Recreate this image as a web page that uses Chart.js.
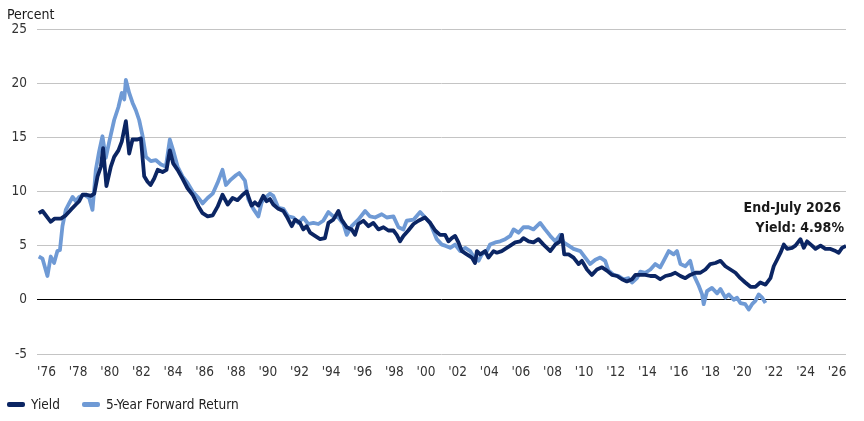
<!DOCTYPE html>
<html>
<head>
<meta charset="utf-8">
<script src="https://cdn.jsdelivr.net/npm/chart.js@4.4.1/dist/chart.umd.min.js"></script>
<style>
  html, body { margin: 0; padding: 0; background: #fff; }
  #wrap { position: relative; width: 864px; height: 421px; }
  #legend {
    position: absolute; left: 7px; top: 396px;
    font: 13.5px 'Liberation Sans Narrow', 'Arial Narrow', 'DejaVu Sans Condensed', sans-serif;
    color: #222; display: flex; align-items: center;
  }
  #legend .item { display: flex; align-items: center; margin-right: 22px; }
  #legend .sw { width: 18px; height: 5px; margin-right: 6px; border-radius: 2px; }
</style>
</head>
<body>
<div id="wrap">
  <canvas id="bondChart" width="864" height="421"></canvas>
  <div id="legend"></div>
</div>
<script>
const FONT = "'Liberation Sans Narrow', 'Arial Narrow', 'DejaVu Sans Condensed', sans-serif";
const DARK = '#0b2563';
const LIGHT = '#6f9ad5';

// x-axis labels (even years)
const tickYears = [1976, 1978, 1980, 1982, 1984, 1986, 1988, 1990, 1992, 1994, 1996, 1998, 2000,
  2002, 2004, 2006, 2008, 2010, 2012, 2014, 2016, 2018, 2020, 2022, 2024, 2026];
const yTicks = [-5, 0, 5, 10, 15, 20, 25];

// Yield, percent
const yieldYears = [
  1975.51, 1975.75, 1976.27, 1976.52, 1976.91, 1977.22, 1977.53, 1977.86, 1978.07, 1978.28,
  1978.54, 1978.81, 1979.02, 1979.23, 1979.44, 1979.58, 1979.79, 1980.07, 1980.28, 1980.55,
  1980.76, 1981.02, 1981.23, 1981.44, 1981.75, 1981.97, 1982.18, 1982.39, 1982.58, 1982.81,
  1983.03, 1983.34, 1983.59, 1983.80, 1984.01, 1984.29, 1984.60, 1984.92, 1985.24, 1985.62,
  1985.87, 1986.19, 1986.51, 1986.82, 1987.13, 1987.46, 1987.77, 1988.08, 1988.41, 1988.66,
  1988.97, 1989.18, 1989.40, 1989.71, 1989.92, 1990.13, 1990.34, 1990.66, 1990.98, 1991.19,
  1991.51, 1991.72, 1992.03, 1992.24, 1992.45, 1992.67, 1992.98, 1993.30, 1993.61, 1993.83,
  1994.14, 1994.46, 1994.66, 1994.99, 1995.30, 1995.51, 1995.72, 1996.04, 1996.36, 1996.67,
  1996.99, 1997.31, 1997.62, 1997.94, 1998.15, 1998.36, 1998.57, 1998.88, 1999.21, 1999.52,
  1999.94, 2000.26, 2000.58, 2000.89, 2001.21, 2001.42, 2001.63, 2001.84, 2002.05, 2002.27,
  2002.58, 2002.90, 2003.10, 2003.22, 2003.43, 2003.74, 2003.95, 2004.27, 2004.48, 2004.79,
  2005.01, 2005.33, 2005.64, 2005.96, 2006.16, 2006.49, 2006.80, 2007.11, 2007.43, 2007.86,
  2008.17, 2008.48, 2008.60, 2008.74, 2009.02, 2009.33, 2009.65, 2009.86, 2010.18, 2010.49,
  2010.81, 2011.13, 2011.44, 2011.76, 2012.08, 2012.39, 2012.70, 2013.03, 2013.24, 2013.55,
  2013.87, 2014.19, 2014.50, 2014.81, 2015.14, 2015.45, 2015.76, 2016.09, 2016.40, 2016.71,
  2017.04, 2017.35, 2017.67, 2017.98, 2018.30, 2018.62, 2018.93, 2019.25, 2019.57, 2019.88,
  2020.19, 2020.52, 2020.83, 2021.14, 2021.47, 2021.78, 2021.99, 2022.20, 2022.42, 2022.63,
  2022.84, 2023.15, 2023.36, 2023.68, 2023.89, 2024.10, 2024.41, 2024.63, 2024.95, 2025.26,
  2025.58, 2025.90, 2026.10, 2026.31, 2026.56
];
const yieldPct = [
  8.0, 8.2, 7.2, 7.5, 7.5, 7.8, 8.3, 8.8, 9.1, 9.7,
  9.7, 9.6, 9.8, 11.4, 12.3, 14.0, 10.5, 12.3, 13.2, 13.8,
  14.6, 16.5, 13.5, 14.8, 14.8, 14.9, 11.4, 10.9, 10.6, 11.2,
  12.0, 11.8, 12.0, 13.8, 12.6, 12.0, 11.2, 10.3, 9.7, 8.6,
  8.0, 7.7, 7.8, 8.6, 9.7, 8.8, 9.4, 9.2, 9.7, 10.0,
  8.7, 9.0, 8.7, 9.6, 9.1, 9.3, 8.8, 8.4, 8.2, 7.7,
  6.8, 7.4, 7.1, 6.5, 6.8, 6.2, 5.9, 5.6, 5.7, 7.1,
  7.4, 8.2, 7.4, 6.7, 6.5, 6.0, 7.0, 7.3, 6.8, 7.1,
  6.5, 6.7, 6.4, 6.4, 6.0, 5.4, 5.9, 6.4, 7.0, 7.3,
  7.6, 7.1, 6.4, 6.0, 6.0, 5.4, 5.7, 5.9, 5.3, 4.5,
  4.2, 3.9, 3.4, 4.5, 4.2, 4.5, 3.9, 4.5, 4.35, 4.5,
  4.7, 5.0, 5.3, 5.4, 5.7, 5.4, 5.3, 5.6, 5.1, 4.5,
  5.1, 5.4, 6.0, 4.2, 4.2, 3.9, 3.3, 3.6, 2.8, 2.3,
  2.8, 3.0, 2.7, 2.3, 2.2, 1.9, 1.7, 1.9, 2.3, 2.3,
  2.3, 2.2, 2.2, 1.9, 2.2, 2.3, 2.5, 2.2, 2.0, 2.3,
  2.5, 2.5, 2.8, 3.3, 3.4, 3.6, 3.1, 2.8, 2.5, 2.0,
  1.6, 1.2, 1.2, 1.6, 1.4, 2.0, 3.1, 3.7, 4.35, 5.1,
  4.7, 4.8, 5.0, 5.6, 4.8, 5.4, 5.0, 4.7, 5.0, 4.7,
  4.7, 4.5, 4.35, 4.8, 4.98
];

// 5-year forward return, percent (ends mid-2021)
const fwdYears = [
  1975.51, 1975.75, 1976.06, 1976.27, 1976.48, 1976.69, 1976.85, 1977.01, 1977.22, 1977.43,
  1977.65, 1977.86, 1978.07, 1978.38, 1978.70, 1978.91, 1979.12, 1979.33, 1979.54, 1979.75,
  1979.97, 1980.28, 1980.55, 1980.76, 1980.92, 1981.02, 1981.23, 1981.44, 1981.65, 1981.86,
  1982.08, 1982.29, 1982.60, 1982.91, 1983.24, 1983.55, 1983.80, 1984.01, 1984.29, 1984.60,
  1984.92, 1985.24, 1985.62, 1985.87, 1986.19, 1986.51, 1986.82, 1987.13, 1987.35, 1987.66,
  1987.98, 1988.19, 1988.55, 1988.76, 1989.08, 1989.40, 1989.61, 1989.82, 1990.13, 1990.34,
  1990.66, 1990.98, 1991.29, 1991.61, 1991.93, 1992.24, 1992.55, 1992.88, 1993.19, 1993.50,
  1993.83, 1994.14, 1994.46, 1994.78, 1994.99, 1995.30, 1995.72, 1996.15, 1996.46, 1996.78,
  1997.20, 1997.52, 1997.94, 1998.26, 1998.57, 1998.78, 1999.21, 1999.63, 1999.94, 2000.26,
  2000.68, 2001.00, 2001.21, 2001.53, 2001.84, 2002.16, 2002.48, 2002.79, 2003.00, 2003.32,
  2003.53, 2003.85, 2004.05, 2004.38, 2004.69, 2005.01, 2005.33, 2005.54, 2005.85, 2006.16,
  2006.49, 2006.80, 2007.01, 2007.22, 2007.53, 2007.86, 2008.17, 2008.48, 2008.70, 2009.02,
  2009.33, 2009.76, 2010.07, 2010.38, 2010.71, 2011.02, 2011.33, 2011.54, 2011.87, 2012.18,
  2012.49, 2012.81, 2013.03, 2013.34, 2013.55, 2013.87, 2014.19, 2014.50, 2014.81, 2015.03,
  2015.35, 2015.66, 2015.87, 2016.09, 2016.40, 2016.71, 2016.93, 2017.25, 2017.46, 2017.56,
  2017.77, 2018.08, 2018.41, 2018.62, 2018.93, 2019.15, 2019.46, 2019.67, 2019.88, 2020.19,
  2020.41, 2020.62, 2020.83, 2021.04, 2021.26, 2021.47
];
const fwdPct = [
  4.0, 3.8, 2.2, 4.0, 3.4, 4.5, 4.6, 6.8, 8.3, 8.9,
  9.5, 9.1, 9.5, 9.7, 9.4, 8.3, 12.0, 13.7, 15.1, 13.1,
  14.6, 16.6, 17.8, 19.1, 18.5, 20.3, 19.1, 18.2, 17.5, 16.6,
  15.1, 13.2, 12.8, 12.9, 12.5, 12.3, 14.8, 13.8, 12.3, 11.4,
  10.8, 10.0, 9.4, 8.9, 9.4, 9.8, 10.8, 12.0, 10.6, 11.1,
  11.5, 11.7, 11.0, 9.3, 8.4, 7.7, 9.0, 9.4, 9.8, 9.6,
  8.5, 8.4, 7.7, 7.6, 7.1, 7.6, 7.0, 7.1, 7.0, 7.3,
  8.1, 7.7, 7.6, 7.0, 6.0, 6.8, 7.4, 8.2, 7.7, 7.6,
  7.9, 7.6, 7.7, 6.7, 6.5, 7.3, 7.4, 8.1, 7.6, 7.1,
  5.6, 5.1, 5.0, 4.8, 5.1, 4.5, 4.8, 4.5, 4.0, 3.6,
  4.2, 4.5, 5.1, 5.3, 5.4, 5.6, 5.9, 6.5, 6.2, 6.7,
  6.7, 6.5, 6.8, 7.1, 6.5, 5.9, 5.4, 6.0, 5.3, 5.0,
  4.7, 4.5, 3.9, 3.3, 3.7, 3.9, 3.6, 2.7, 2.3, 2.2,
  1.9, 2.0, 1.6, 2.0, 2.6, 2.5, 2.8, 3.3, 3.0, 3.6,
  4.5, 4.2, 4.5, 3.3, 3.1, 3.6, 2.3, 1.3, 0.5, -0.4,
  0.8, 1.1, 0.6, 1.0, 0.2, 0.5, 0.0, 0.2, -0.3, -0.4,
  -0.9, -0.4, -0.1, 0.5, 0.2, -0.3
];

const annotationLines = ['End-July 2026', 'Yield: 4.98%'];

const toPoints = (xs, ys) => xs.map((x, i) => ({ x, y: ys[i] }));

// "Percent" label and end-of-series callout
const callout = {
  id: 'callout',
  afterDraw(chart) {
    const { ctx, scales: { x, y } } = chart;
    const last = yieldYears.length - 1;
    const px = x.getPixelForValue(yieldYears[last]);
    const py = y.getPixelForValue(yieldPct[last]);
    ctx.save();
    ctx.fillStyle = '#1a1a1a';
    ctx.font = `bold 14px ${FONT}`;
    ctx.textAlign = 'right';
    ctx.textBaseline = 'alphabetic';
    ctx.fillText(annotationLines[0], px - 5, py - 34);
    ctx.fillText(annotationLines[1], px - 2, py - 14);
    ctx.font = `14px ${FONT}`;
    ctx.textAlign = 'left';
    ctx.fillText('Percent', 7, 19);
    ctx.restore();
  }
};

const chart = new Chart(document.getElementById('bondChart').getContext('2d'), {
  type: 'line',
  data: {
    datasets: [
      {
        label: 'Yield',
        data: toPoints(yieldYears, yieldPct),
        borderColor: DARK,
        backgroundColor: DARK,
        borderWidth: 3.8,
        pointRadius: 0,
        tension: 0,
        borderJoinStyle: 'round',
      },
      {
        label: '5-Year Forward Return',
        data: toPoints(fwdYears, fwdPct),
        borderColor: LIGHT,
        backgroundColor: LIGHT,
        borderWidth: 3.8,
        pointRadius: 0,
        tension: 0,
        borderJoinStyle: 'round',
      },
    ],
  },
  options: {
    responsive: false,
    animation: false,
    devicePixelRatio: 1,
    layout: { padding: { top: 29, right: 18, bottom: 38, left: 0 } },
    plugins: {
      legend: { display: false },
      tooltip: { enabled: false },
    },
    scales: {
      x: {
        type: 'linear',
        min: 1975.4,
        max: 2026.56,
        afterBuildTicks: s => { s.ticks = tickYears.map(v => ({ value: v })); },
        afterFit: s => { s.height = 29; },
        grid: { display: false, drawTicks: false },
        border: { display: false },
        ticks: {
          padding: 10,
          color: '#333',
          font: { family: FONT, size: 13.5 },
          maxRotation: 0,
          autoSkip: false,
          callback: v => "'" + String(v).slice(2),
        },
      },
      y: {
        min: -5,
        max: 25,
        afterBuildTicks: s => { s.ticks = yTicks.map(v => ({ value: v })); },
        afterFit: s => { s.width = 37; },
        grid: {
          drawTicks: false,
          color: c => (c.tick && c.tick.value === 0 ? '#000' : '#c4c4c4'),
          lineWidth: 1,
        },
        border: { display: false },
        ticks: {
          padding: 10,
          color: '#333',
          font: { family: FONT, size: 13.5 },
        },
      },
    },
  },
  plugins: [callout],
});

// HTML legend
const legendEl = document.getElementById('legend');
chart.data.datasets.forEach(ds => {
  const item = document.createElement('span');
  item.className = 'item';
  const sw = document.createElement('span');
  sw.className = 'sw';
  sw.style.background = ds.borderColor;
  const txt = document.createElement('span');
  txt.textContent = ds.label;
  item.appendChild(sw);
  item.appendChild(txt);
  legendEl.appendChild(item);
});
</script>
</body>
</html>
